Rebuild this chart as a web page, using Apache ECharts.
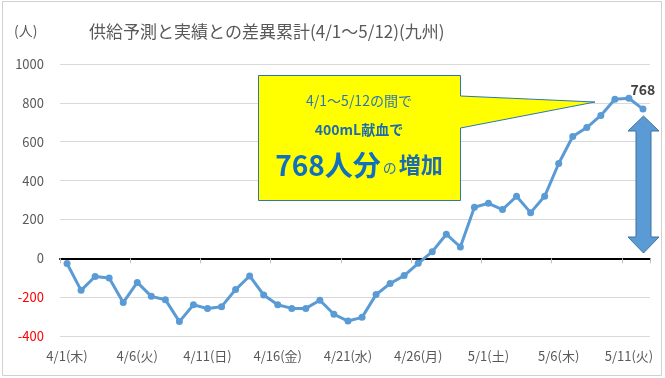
<!DOCTYPE html>
<html>
<head>
<meta charset="utf-8">
<script src="https://cdn.jsdelivr.net/npm/echarts@6/dist/echarts.min.js"></script>
<style>
  html, body { margin: 0; padding: 0; background: #fff; }
  #chart { width: 665px; height: 378px; }
</style>
</head>
<body>
<div id="chart"></div>
<script>
const days = [
  '4/1(木)', '4/2(金)', '4/3(土)', '4/4(日)', '4/5(月)', '4/6(火)', '4/7(水)',
  '4/8(木)', '4/9(金)', '4/10(土)', '4/11(日)', '4/12(月)', '4/13(火)', '4/14(水)',
  '4/15(木)', '4/16(金)', '4/17(土)', '4/18(日)', '4/19(月)', '4/20(火)', '4/21(水)',
  '4/22(木)', '4/23(金)', '4/24(土)', '4/25(日)', '4/26(月)', '4/27(火)', '4/28(水)',
  '4/29(木)', '4/30(金)', '5/1(土)', '5/2(日)', '5/3(月)', '5/4(火)', '5/5(水)',
  '5/6(木)', '5/7(金)', '5/8(土)', '5/9(日)', '5/10(月)', '5/11(火)', '5/12(水)',
];

const diffTotal = [
  -27, -165, -94, -101, -228, -124, -196, -213, -326, -239,
  -259, -249, -161, -91, -189, -239, -258, -258, -216, -288,
  -323, -304, -187, -130, -89, -26, 34, 124, 58, 263,
  283, 251, 319, 235, 319, 488, 627, 673, 735, 819,
  824, 768,
];

const yTicks = { min: -400, max: 1000, step: 200 };

const blue = '#5b9bd5';
const textGrey = '#595959';
const jpFont = '"Noto Sans CJK JP", sans-serif';

const chart = echarts.init(document.getElementById('chart'));

const seriesData = diffTotal.map((v, i) => {
  if (i !== diffTotal.length - 1) return v;
  return {
    value: v,
    label: {
      show: true,
      position: 'top',
      offset: [0, -4],
      fontSize: 14,
      fontWeight: 'bold',
      color: '#404040',
      fontFamily: jpFont,
    },
  };
});

// two overlaid value axes: grey labels for >= 0, red labels for < 0
function valueAxis(showNeg) {
  return {
    type: 'value',
    position: 'left',
    min: yTicks.min,
    max: yTicks.max,
    interval: yTicks.step,
    axisLine: { show: false },
    axisTick: { show: false },
    axisLabel: {
      margin: 16,
      fontSize: 13,
      fontFamily: jpFont,
      color: showNeg ? '#ff0000' : textGrey,
      formatter: (v) => ((v < 0) === showNeg ? String(v) : ''),
    },
    splitLine: { show: !showNeg, lineStyle: { color: '#d9d9d9' } },
  };
}

const option = {
  animation: false,
  textStyle: { fontFamily: jpFont },
  title: {
    text: '供給予測と実績との差異累計(4/1～5/12)(九州)',
    left: 84,
    top: 18,
    textStyle: {
      fontSize: 17,
      fontWeight: 'normal',
      color: textGrey,
      fontFamily: jpFont,
    },
  },
  grid: { left: 60, right: 15, top: 64, bottom: 42 },
  xAxis: [
    {
      type: 'category',
      data: days,
      position: 'bottom',
      axisLine: { show: false, onZero: false },
      axisTick: { show: false },
      axisLabel: {
        interval: 4,
        margin: 14,
        fontSize: 13,
        color: textGrey,
        fontFamily: jpFont,
      },
    },
    {
      type: 'category',
      data: days,
      position: 'top',
      axisLine: { show: true, onZero: true, lineStyle: { color: '#000', width: 2 } },
      axisTick: { show: true, interval: 4, inside: true, length: 5, lineStyle: { color: '#bfbfbf' } },
      axisLabel: { show: false },
    },
  ],
  yAxis: [valueAxis(false), valueAxis(true)],
  series: [
    {
      type: 'line',
      xAxisIndex: 0,
      yAxisIndex: 0,
      data: seriesData,
      symbol: 'circle',
      symbolSize: 7,
      lineStyle: { color: blue, width: 3 },
      itemStyle: { color: blue },
    },
  ],
  graphic: [
    {
      type: 'rect',
      shape: { x: 2.5, y: 1.5, width: 659, height: 374 },
      style: { fill: 'none', stroke: '#d0d0d0', lineWidth: 1 },
      silent: true,
    },
    {
      type: 'text',
      left: 14,
      top: 24,
      style: { text: '(人)', fontSize: 14, fill: textGrey, fontFamily: jpFont },
    },
    // callout box
    {
      type: 'polygon',
      shape: {
        points: [
          [258.5, 75.5], [460.5, 75.5], [460.5, 96], [595, 102],
          [460.5, 128], [460.5, 200.5], [258.5, 200.5],
        ],
      },
      style: { fill: '#ffff00', stroke: '#2e75b6', lineWidth: 1 },
      z: 10,
    },
    {
      type: 'text',
      x: 359,
      y: 101,
      style: {
        text: '4/1～5/12の間で',
        align: 'center',
        verticalAlign: 'middle',
        fontSize: 14,
        fill: '#2e75b6',
        fontFamily: jpFont,
      },
      z: 11,
    },
    {
      type: 'text',
      x: 359,
      y: 130,
      style: {
        text: '400mL献血で',
        align: 'center',
        verticalAlign: 'middle',
        fontSize: 14,
        fontWeight: 'bold',
        fill: '#1f6bb0',
        fontFamily: jpFont,
      },
      z: 11,
    },
    {
      type: 'text',
      x: 359,
      y: 165,
      style: {
        text: '{big|768人分}{small|の}{mid|増加}',
        align: 'center',
        verticalAlign: 'middle',
        fontFamily: jpFont,
        rich: {
          big: { fontSize: 28, fontWeight: 'bold', fill: '#0f6fc0', fontFamily: jpFont },
          small: { fontSize: 14, fill: '#2e75b6', fontFamily: jpFont, padding: [6, 2, 0, 2] },
          mid: { fontSize: 22, fontWeight: 'bold', fill: '#1f6bb0', fontFamily: jpFont },
        },
      },
      z: 11,
    },
    // double arrow
    {
      type: 'polygon',
      shape: {
        points: [
          [643.5, 116], [659, 131], [651, 131], [651, 237], [659, 237],
          [643.5, 253], [628, 237], [636, 237], [636, 131], [628, 131],
        ],
      },
      style: { fill: blue, stroke: '#41719c', lineWidth: 1 },
      z: 10,
    },
  ],
};

chart.setOption(option);
</script>
</body>
</html>
